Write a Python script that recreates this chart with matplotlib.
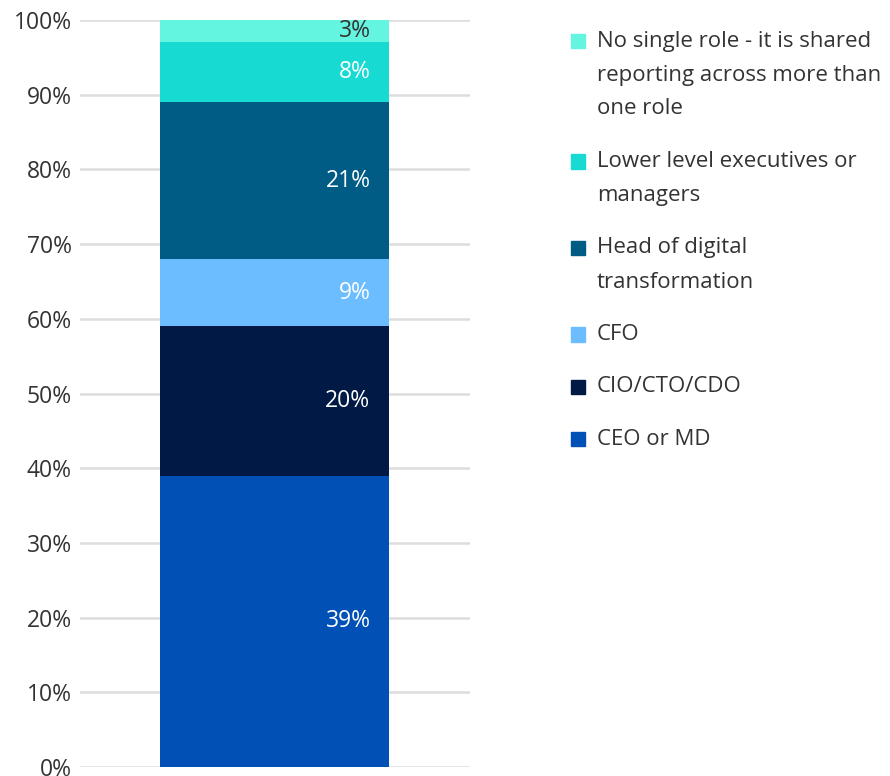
import matplotlib.pyplot as plt
from matplotlib.patches import Rectangle

plt.rcParams['font.family'] = ['Open Sans', 'DejaVu Sans']

# shares of the reporting line, bottom to top of the stack
roles = ['CEO or MD', 'CIO/CTO/CDO', 'CFO', 'Head of digital transformation',
         'Lower level executives or managers',
         'No single role - it is shared reporting across more than one role']
legend_lines = [['CEO or MD'], ['CIO/CTO/CDO'], ['CFO'],
                ['Head of digital', 'transformation'],
                ['Lower level executives or', 'managers'],
                ['No single role - it is shared', 'reporting across more than', 'one role']]
shares = [39, 20, 9, 21, 8, 3]
colors = ['#0050B5', '#001A45', '#6BBDFF', '#005B85', '#17DBD3', '#64F5E0']
label_colors = ['white', 'white', 'white', 'white', 'white', '#333333']
ticks = [0, 10, 20, 30, 40, 50, 60, 70, 80, 90, 100]

W, H = 890, 776
fig = plt.figure(figsize=(W / 100, H / 100), dpi=100)
ax = fig.add_axes([80 / W, 1 - 767 / H, 390 / W, 747 / H])

bar_w = 229 / 390
bottom = 0
for val, col, lc in zip(shares, colors, label_colors):
    ax.bar(-0.002, val, bottom=bottom, width=bar_w, color=col, zorder=3)
    ax.text(bar_w / 2 - 19 / 390, bottom + val / 2, f'{val}%', ha='right', va='center',
            color=lc, fontsize=16.5, zorder=4)
    bottom += val

ax.set_xlim(-0.5, 0.5)
ax.set_ylim(0, 100)
ax.set_yticks(ticks)
ax.set_yticklabels([f'{t}%' for t in ticks])
ax.set_xticks([])
ax.tick_params(axis='y', length=0, pad=6, labelsize=16.5, labelcolor='#333333')
ax.grid(axis='y', color='#dddddd', linewidth=1.8, zorder=0)
for s in ax.spines.values():
    s.set_visible(False)

# legend drawn by hand, top entry first
y = 41
for lines, col in zip(legend_lines[::-1], colors[::-1]):
    fig.patches.append(Rectangle((571 / W, 1 - (y + 7) / H), 14 / W, 14 / H,
                                 transform=fig.transFigure, color=col))
    for i, line in enumerate(lines):
        fig.text(597 / W, 1 - (y + 34 * i) / H, line, ha='left', va='center',
                 fontsize=16, color='#333333')
    y += 34 * (len(lines) - 1) + 52.5

fig.savefig('out.png', dpi=100)
